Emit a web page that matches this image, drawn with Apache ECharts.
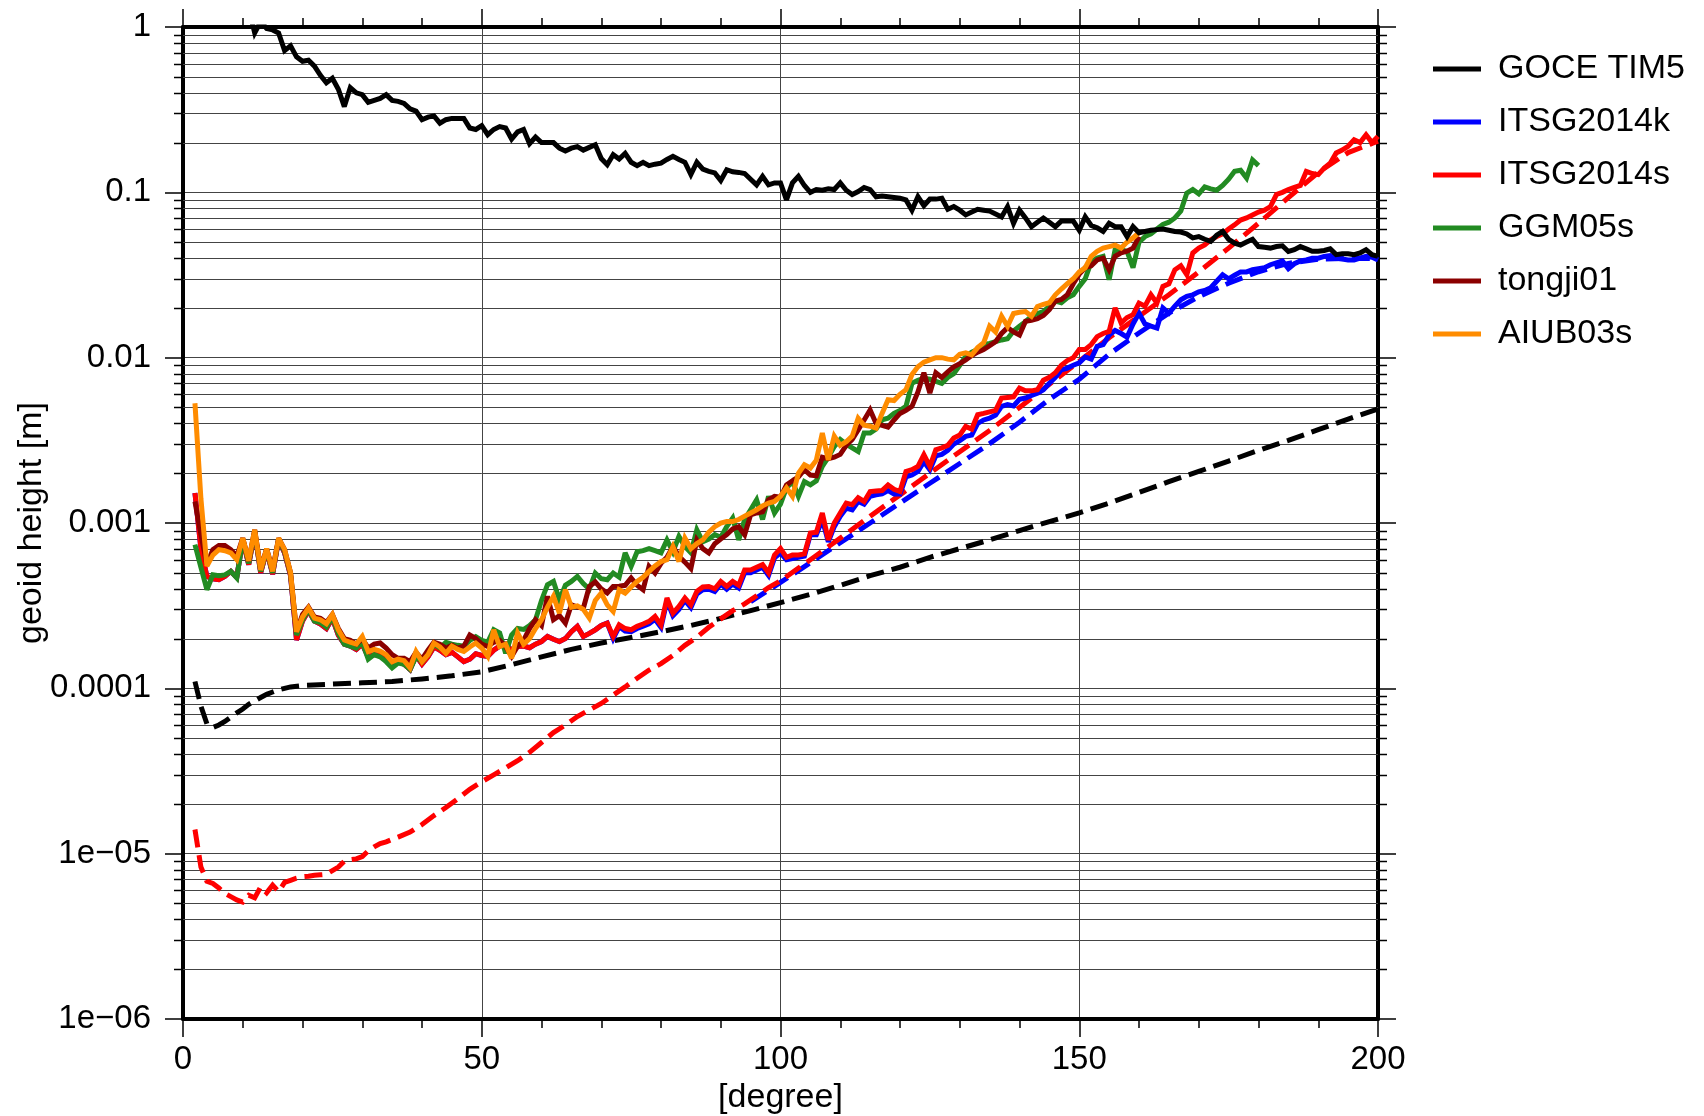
<!DOCTYPE html>
<html>
<head>
<meta charset="utf-8">
<title>geoid height per degree</title>
<script src="https://cdn.jsdelivr.net/npm/echarts@6/dist/echarts.min.js"></script>
<style>
    html, body { margin: 0; padding: 0; background: #fff; }
    #main { width: 1704px; height: 1116px; }
</style>
</head>
<body>
<div id="main"></div>
<script>
// axes
var xMin = 0, xMax = 200, xStep = 50;
var yMin = 1e-6, yMax = 1;
var yTickLabels = ['1', '0.1', '0.01', '0.001', '0.0001', '1e\u221205', '1e\u221206'];
var yMinorMantissas = [2, 3, 4, 5, 6, 7, 8, 9];
var legendNames = ['GOCE TIM5', 'ITSG2014k', 'ITSG2014s', 'GGM05s', 'tongji01', 'AIUB03s'];

// first degree of each solid curve (one value per degree after that)
var goceStart = 10;
var otherStart = 2;

// GOCE TIM5, degree 10..200 (above 1 is cut off by the frame)
var goceTim5 = [
    1.5, 1.3, 0.92, 1.08, 0.98, 0.96, 0.92, 0.72, 0.77, 0.66,
    0.62, 0.63, 0.58, 0.51, 0.46, 0.49, 0.42, 0.33, 0.43, 0.40,
    0.39, 0.35, 0.36, 0.37, 0.39, 0.36, 0.355, 0.345, 0.32, 0.31,
    0.275, 0.285, 0.29, 0.262, 0.275, 0.28, 0.28, 0.28, 0.245, 0.24,
    0.253, 0.223, 0.24, 0.25, 0.245, 0.21, 0.232, 0.24, 0.197, 0.216,
    0.20, 0.2, 0.2, 0.185, 0.178, 0.185, 0.189, 0.18, 0.187, 0.194,
    0.16, 0.147, 0.169, 0.159, 0.172, 0.152, 0.145, 0.152, 0.145, 0.148,
    0.15, 0.158, 0.165, 0.158, 0.152, 0.128, 0.152, 0.138, 0.134, 0.131,
    0.118, 0.137, 0.133, 0.132, 0.13, 0.12, 0.111, 0.125, 0.111, 0.114,
    0.114, 0.09, 0.114, 0.125, 0.11, 0.1, 0.104, 0.103, 0.105, 0.104,
    0.114, 0.103, 0.097, 0.101, 0.107, 0.104, 0.094, 0.095, 0.094, 0.093,
    0.092, 0.09, 0.078, 0.094, 0.083, 0.091, 0.091, 0.092, 0.079, 0.082,
    0.078, 0.073, 0.076, 0.079, 0.078, 0.077, 0.074, 0.071, 0.082, 0.065,
    0.078, 0.07, 0.062, 0.066, 0.07, 0.066, 0.062, 0.067, 0.067, 0.067,
    0.059, 0.071, 0.063, 0.061, 0.058, 0.065, 0.062, 0.062, 0.054, 0.062,
    0.057, 0.058, 0.059, 0.0595, 0.06, 0.059, 0.058, 0.0575, 0.056, 0.053,
    0.054, 0.052, 0.0505, 0.055, 0.058, 0.052, 0.0493, 0.048, 0.05, 0.052,
    0.047, 0.0465, 0.046, 0.047, 0.0475, 0.0439, 0.045, 0.047, 0.0455, 0.044,
    0.044, 0.0445, 0.0455, 0.042, 0.0425, 0.0425, 0.042, 0.043, 0.045, 0.042,
    0.041
];

// ITSG2014k, degree 2..200
var itsg2014k = [
    1.52e-3, 7.0e-4, 4.75e-4, 4.6e-4, 4.54e-4, 4.75e-4, 5.1e-4, 4.7e-4, 7.9e-4, 5.6e-4,
    8.8e-4, 5.0e-4, 6.8e-4, 4.9e-4, 7.9e-4, 6.6e-4, 4.8e-4, 1.96e-4, 2.55e-4, 2.95e-4,
    2.55e-4, 2.45e-4, 2.3e-4, 2.65e-4, 2.1e-4, 1.85e-4, 1.8e-4, 1.72e-4, 1.85e-4, 1.55e-4,
    1.6e-4, 1.58e-4, 1.5e-4, 1.38e-4, 1.45e-4, 1.4e-4, 1.3e-4, 1.58e-4, 1.4e-4, 1.55e-4,
    1.78e-4, 1.7e-4, 1.6e-4, 1.65e-4, 1.55e-4, 1.45e-4, 1.5e-4, 1.62e-4, 1.58e-4, 1.56e-4,
    1.7e-4, 1.8e-4, 1.85e-4, 1.7e-4, 1.79e-4, 1.8e-4, 1.76e-4, 1.85e-4, 1.92e-4, 2.06e-4,
    1.98e-4, 1.92e-4, 2.0e-4, 2.2e-4, 2.37e-4, 2.06e-4, 2.15e-4, 2.26e-4, 2.4e-4, 2.48e-4,
    2.0e-4, 2.36e-4, 2.22e-4, 2.2e-4, 2.3e-4, 2.38e-4, 2.46e-4, 2.62e-4, 2.34e-4, 3.38e-4,
    2.75e-4, 3.0e-4, 3.4e-4, 3.08e-4, 3.72e-4, 3.95e-4, 3.98e-4, 3.85e-4, 4.27e-4, 3.98e-4,
    4.27e-4, 4.05e-4, 5.0e-4, 5.0e-4, 5.2e-4, 5.4e-4, 4.82e-4, 6.15e-4, 6.6e-4, 6.0e-4,
    6.1e-4, 6.2e-4, 6.3e-4, 8.5e-4, 8.5e-4, 1.05e-3, 7.7e-4, 9.5e-4, 1.1e-3, 1.23e-3,
    1.2e-3, 1.35e-3, 1.3e-3, 1.45e-3, 1.48e-3, 1.5e-3, 1.57e-3, 1.5e-3, 1.5e-3, 1.9e-3,
    1.95e-3, 2.05e-3, 2.35e-3, 2.1e-3, 2.55e-3, 2.6e-3, 2.75e-3, 3.0e-3, 3.15e-3, 3.34e-3,
    3.4e-3, 4.0e-3, 4.2e-3, 4.3e-3, 4.5e-3, 5.07e-3, 5.2e-3, 5.1e-3, 5.6e-3, 5.7e-3,
    5.9e-3, 6.1e-3, 6.4e-3, 7.0e-3, 7.6e-3, 8.45e-3, 8.65e-3, 9.0e-3, 9.3e-3, 1.01e-2,
    9.8e-3, 1.17e-2, 1.2e-2, 1.37e-2, 1.46e-2, 1.4e-2, 1.33e-2, 1.6e-2, 1.86e-2, 1.6e-2,
    1.55e-2, 1.51e-2, 2.0e-2, 1.86e-2, 2.05e-2, 2.24e-2, 2.35e-2, 2.4e-2, 2.5e-2, 2.55e-2,
    2.65e-2, 2.9e-2, 3.17e-2, 3.0e-2, 3.15e-2, 3.3e-2, 3.3e-2, 3.4e-2, 3.45e-2, 3.5e-2,
    3.65e-2, 3.75e-2, 3.85e-2, 3.45e-2, 3.7e-2, 3.85e-2, 3.9e-2, 4.0e-2, 4.0e-2, 4.1e-2,
    4.15e-2, 4.0e-2, 3.95e-2, 3.9e-2, 3.9e-2, 4.0e-2, 4.1e-2, 4.05e-2, 3.9e-2
];

// ITSG2014s, degree 2..200
var itsg2014s = [
    1.52e-3, 7.0e-4, 4.75e-4, 4.6e-4, 4.54e-4, 4.75e-4, 5.1e-4, 4.7e-4, 7.9e-4, 5.6e-4,
    8.8e-4, 5.0e-4, 6.8e-4, 4.9e-4, 7.9e-4, 6.6e-4, 4.8e-4, 1.96e-4, 2.55e-4, 2.95e-4,
    2.55e-4, 2.45e-4, 2.3e-4, 2.65e-4, 2.1e-4, 1.85e-4, 1.8e-4, 1.72e-4, 1.85e-4, 1.55e-4,
    1.6e-4, 1.58e-4, 1.5e-4, 1.38e-4, 1.45e-4, 1.4e-4, 1.3e-4, 1.58e-4, 1.4e-4, 1.55e-4,
    1.78e-4, 1.7e-4, 1.6e-4, 1.65e-4, 1.55e-4, 1.45e-4, 1.5e-4, 1.62e-4, 1.58e-4, 1.56e-4,
    1.7e-4, 1.8e-4, 1.85e-4, 1.7e-4, 1.79e-4, 1.8e-4, 1.76e-4, 1.85e-4, 1.92e-4, 2.06e-4,
    1.98e-4, 1.92e-4, 2.0e-4, 2.2e-4, 2.37e-4, 2.06e-4, 2.15e-4, 2.26e-4, 2.4e-4, 2.48e-4,
    2.06e-4, 2.42e-4, 2.3e-4, 2.26e-4, 2.37e-4, 2.45e-4, 2.54e-4, 2.72e-4, 2.42e-4, 3.52e-4,
    2.85e-4, 3.13e-4, 3.52e-4, 3.2e-4, 3.86e-4, 4.1e-4, 4.13e-4, 4.0e-4, 4.43e-4, 4.13e-4,
    4.43e-4, 4.2e-4, 5.2e-4, 5.2e-4, 5.4e-4, 5.6e-4, 5.0e-4, 6.4e-4, 7.0e-4, 6.2e-4,
    6.4e-4, 6.4e-4, 6.5e-4, 8.7e-4, 8.8e-4, 1.15e-3, 7.9e-4, 1.0e-3, 1.15e-3, 1.32e-3,
    1.29e-3, 1.42e-3, 1.35e-3, 1.55e-3, 1.56e-3, 1.57e-3, 1.7e-3, 1.6e-3, 1.55e-3, 2.05e-3,
    2.1e-3, 2.2e-3, 2.59e-3, 2.2e-3, 2.77e-3, 2.85e-3, 2.95e-3, 3.27e-3, 3.4e-3, 3.84e-3,
    3.7e-3, 4.52e-3, 4.6e-3, 4.7e-3, 4.8e-3, 5.7e-3, 5.75e-3, 5.8e-3, 6.55e-3, 6.3e-3,
    6.3e-3, 6.4e-3, 7.3e-3, 7.6e-3, 8.1e-3, 9.0e-3, 9.6e-3, 1.0e-2, 1.12e-2, 1.12e-2,
    1.2e-2, 1.34e-2, 1.4e-2, 1.44e-2, 2.0e-2, 1.62e-2, 1.75e-2, 1.82e-2, 2.14e-2, 2.05e-2,
    2.4e-2, 2.14e-2, 2.7e-2, 2.8e-2, 3.4e-2, 3.6e-2, 3.17e-2, 4.3e-2, 4.6e-2, 4.8e-2,
    5.16e-2, 5.4e-2, 5.6e-2, 6.0e-2, 6.36e-2, 6.8e-2, 7.0e-2, 7.3e-2, 7.6e-2, 7.8e-2,
    8.2e-2, 9.7e-2, 1.0e-1, 1.04e-1, 1.07e-1, 1.1e-1, 1.34e-1, 1.3e-1, 1.28e-1, 1.4e-1,
    1.5e-1, 1.73e-1, 1.8e-1, 1.9e-1, 2.08e-1, 2.0e-1, 2.23e-1, 2.0e-1, 2.18e-1
];

// GGM05s, degree 2..180
var ggm05s = [
    7.4e-4, 5.4e-4, 3.95e-4, 4.86e-4, 4.8e-4, 4.85e-4, 5.1e-4, 4.65e-4, 8.0e-4, 5.7e-4,
    8.9e-4, 5.1e-4, 6.9e-4, 5.0e-4, 8.0e-4, 6.7e-4, 4.9e-4, 2.1e-4, 2.6e-4, 3.0e-4,
    2.55e-4, 2.5e-4, 2.35e-4, 2.7e-4, 2.15e-4, 1.85e-4, 1.8e-4, 1.75e-4, 1.9e-4, 1.5e-4,
    1.6e-4, 1.55e-4, 1.45e-4, 1.33e-4, 1.42e-4, 1.4e-4, 1.3e-4, 1.55e-4, 1.45e-4, 1.6e-4,
    1.85e-4, 1.75e-4, 1.9e-4, 1.85e-4, 1.82e-4, 1.8e-4, 1.95e-4, 2.05e-4, 1.95e-4, 1.9e-4,
    2.26e-4, 2.16e-4, 1.63e-4, 2.1e-4, 2.3e-4, 2.27e-4, 2.4e-4, 2.6e-4, 3.4e-4, 4.23e-4,
    4.43e-4, 3.43e-4, 4.2e-4, 4.43e-4, 4.75e-4, 4.3e-4, 3.98e-4, 4.98e-4, 4.6e-4, 4.54e-4,
    4.98e-4, 4.7e-4, 6.6e-4, 5.46e-4, 6.7e-4, 6.8e-4, 7.0e-4, 6.8e-4, 6.6e-4, 7.9e-4,
    6.7e-4, 8.3e-4, 7.2e-4, 6.6e-4, 9.1e-4, 7.7e-4, 8.0e-4, 8.5e-4, 8.2e-4, 9.5e-4,
    1.07e-3, 7.9e-4, 1.05e-3, 1.2e-3, 1.38e-3, 1.05e-3, 1.45e-3, 1.15e-3, 1.3e-3, 1.63e-3,
    1.78e-3, 1.45e-3, 1.78e-3, 1.7e-3, 1.8e-3, 2.2e-3, 2.5e-3, 2.9e-3, 3.2e-3, 3.0e-3,
    2.85e-3, 2.71e-3, 3.5e-3, 3.5e-3, 3.7e-3, 4.21e-3, 4.3e-3, 4.6e-3, 4.8e-3, 5.07e-3,
    7.0e-3, 7.3e-3, 7.5e-3, 7.4e-3, 7.2e-3, 7.0e-3, 7.6e-3, 8.0e-3, 9.0e-3, 1.02e-2,
    1.08e-2, 1.12e-2, 1.2e-2, 1.22e-2, 1.25e-2, 1.28e-2, 1.3e-2, 1.45e-2, 1.55e-2, 1.65e-2,
    1.78e-2, 1.85e-2, 1.9e-2, 2.05e-2, 2.2e-2, 2.15e-2, 2.3e-2, 2.4e-2, 2.7e-2, 3.0e-2,
    3.8e-2, 4.0e-2, 4.1e-2, 2.96e-2, 4.5e-2, 4.5e-2, 4.4e-2, 3.5e-2, 5.0e-2, 5.4e-2,
    5.6e-2, 6.0e-2, 6.4e-2, 6.6e-2, 7.0e-2, 7.7e-2, 9.9e-2, 1.04e-1, 9.8e-2, 1.08e-1,
    1.05e-1, 1.03e-1, 1.1e-1, 1.2e-1, 1.34e-1, 1.36e-1, 1.22e-1, 1.57e-1, 1.45e-1
];

// tongji01, degree 2..160
var tongji01 = [
    1.35e-3, 8.5e-4, 5.6e-4, 6.9e-4, 7.3e-4, 7.3e-4, 6.9e-4, 6.3e-4, 8.1e-4, 5.9e-4,
    9.1e-4, 5.3e-4, 7.0e-4, 5.2e-4, 8.1e-4, 6.9e-4, 5.0e-4, 2.2e-4, 2.8e-4, 3.1e-4,
    2.7e-4, 2.65e-4, 2.5e-4, 2.8e-4, 2.3e-4, 2.0e-4, 1.95e-4, 1.85e-4, 2.0e-4, 1.75e-4,
    1.85e-4, 1.88e-4, 1.75e-4, 1.6e-4, 1.52e-4, 1.52e-4, 1.45e-4, 1.65e-4, 1.5e-4, 1.7e-4,
    1.9e-4, 1.85e-4, 1.75e-4, 1.82e-4, 1.75e-4, 1.8e-4, 2.1e-4, 2.0e-4, 1.85e-4, 1.79e-4,
    1.9e-4, 1.95e-4, 1.79e-4, 1.56e-4, 1.8e-4, 1.95e-4, 2.3e-4, 2.6e-4, 2.4e-4, 3.6e-4,
    2.6e-4, 2.75e-4, 2.48e-4, 3.2e-4, 3.1e-4, 3.05e-4, 4.13e-4, 4.4e-4, 4.0e-4, 3.77e-4,
    4.13e-4, 4.15e-4, 4.2e-4, 4.65e-4, 4.2e-4, 3.95e-4, 5.46e-4, 4.98e-4, 5.7e-4, 6.2e-4,
    7.2e-4, 6.3e-4, 5.8e-4, 5.3e-4, 7.9e-4, 7.0e-4, 6.6e-4, 7.5e-4, 8.0e-4, 8.5e-4,
    9.2e-4, 9.5e-4, 8.5e-4, 1.12e-3, 1.15e-3, 1.17e-3, 1.38e-3, 1.45e-3, 1.43e-3, 1.7e-3,
    1.8e-3, 1.9e-3, 2.1e-3, 1.95e-3, 1.93e-3, 2.5e-3, 2.45e-3, 2.5e-3, 2.6e-3, 2.95e-3,
    3.2e-3, 3.66e-3, 4.2e-3, 4.83e-3, 4.0e-3, 3.9e-3, 3.8e-3, 4.2e-3, 4.6e-3, 4.8e-3,
    5.07e-3, 6.2e-3, 8.1e-3, 6.1e-3, 8.1e-3, 7.6e-3, 8.2e-3, 8.8e-3, 9.2e-3, 9.7e-3,
    1.03e-2, 1.08e-2, 1.12e-2, 1.18e-2, 1.25e-2, 1.4e-2, 1.52e-2, 1.43e-2, 1.37e-2, 1.66e-2,
    1.68e-2, 1.72e-2, 1.8e-2, 1.95e-2, 2.2e-2, 2.25e-2, 2.4e-2, 2.8e-2, 3.2e-2, 3.5e-2,
    3.6e-2, 3.9e-2, 4.0e-2, 3.4e-2, 4.1e-2, 4.3e-2, 4.4e-2, 4.6e-2, 5.4e-2
];

// AIUB03s, degree 2..160
var aiub03s = [
    5.3e-3, 1.4e-3, 5.5e-4, 6.4e-4, 6.9e-4, 6.8e-4, 6.6e-4, 6.0e-4, 8.1e-4, 5.9e-4,
    9.1e-4, 5.2e-4, 7.0e-4, 5.1e-4, 8.1e-4, 6.9e-4, 5.0e-4, 2.2e-4, 2.7e-4, 3.06e-4,
    2.66e-4, 2.6e-4, 2.46e-4, 2.79e-4, 2.26e-4, 1.96e-4, 1.9e-4, 1.85e-4, 2.06e-4, 1.67e-4,
    1.72e-4, 1.68e-4, 1.6e-4, 1.45e-4, 1.5e-4, 1.47e-4, 1.33e-4, 1.67e-4, 1.45e-4, 1.6e-4,
    1.88e-4, 1.78e-4, 1.63e-4, 1.8e-4, 1.72e-4, 1.67e-4, 1.78e-4, 1.88e-4, 1.75e-4, 1.56e-4,
    2.26e-4, 1.79e-4, 1.85e-4, 1.52e-4, 2.16e-4, 1.85e-4, 2.0e-4, 2.3e-4, 2.6e-4, 3.1e-4,
    3.6e-4, 2.85e-4, 3.95e-4, 3.1e-4, 3.15e-4, 3.0e-4, 2.66e-4, 3.4e-4, 3.77e-4, 3.2e-4,
    2.92e-4, 3.95e-4, 3.77e-4, 4.1e-4, 4.43e-4, 4.7e-4, 5.1e-4, 5.5e-4, 5.85e-4, 6.0e-4,
    7.2e-4, 5.85e-4, 8.1e-4, 7.0e-4, 7.5e-4, 7.9e-4, 8.8e-4, 9.5e-4, 1.0e-3, 1.02e-3,
    1.02e-3, 1.05e-3, 1.1e-3, 1.15e-3, 1.2e-3, 1.27e-3, 1.32e-3, 1.35e-3, 1.45e-3, 1.63e-3,
    1.45e-3, 2.0e-3, 2.25e-3, 2.15e-3, 2.4e-3, 3.5e-3, 2.41e-3, 3.35e-3, 2.95e-3, 3.1e-3,
    3.35e-3, 4.3e-3, 3.9e-3, 3.85e-3, 3.75e-3, 4.6e-3, 5.56e-3, 5.5e-3, 6.0e-3, 6.4e-3,
    7.9e-3, 8.8e-3, 9.4e-3, 9.7e-3, 1.0e-2, 1.0e-2, 9.8e-3, 9.7e-3, 1.05e-2, 1.07e-2,
    1.04e-2, 1.15e-2, 1.23e-2, 1.55e-2, 1.43e-2, 1.78e-2, 1.55e-2, 1.85e-2, 1.88e-2, 1.9e-2,
    1.78e-2, 2.04e-2, 2.1e-2, 2.15e-2, 2.4e-2, 2.6e-2, 2.8e-2, 3.0e-2, 3.3e-2, 3.5e-2,
    4.1e-2, 4.4e-2, 4.6e-2, 4.7e-2, 4.8e-2, 4.6e-2, 5.0e-2, 5.3e-2, 5.7e-2
];

// dashed curves, [degree, value]
var goceTim5Dashed = [
    [2, 1.1e-4], [3, 7.8e-5], [4, 6.1e-5], [5, 5.8e-5], [6, 6.0e-5], [7, 6.3e-5], [8, 6.7e-5],
    [9, 7.1e-5], [10, 7.5e-5], [11, 8.0e-5], [12, 8.4e-5], [13, 8.8e-5], [14, 9.2e-5], [15, 9.5e-5],
    [16, 9.8e-5], [17, 1.0e-4], [18, 1.02e-4], [20, 1.04e-4], [25, 1.06e-4], [30, 1.08e-4],
    [35, 1.1e-4], [40, 1.14e-4], [45, 1.19e-4], [50, 1.26e-4], [55, 1.39e-4], [60, 1.55e-4],
    [65, 1.72e-4], [70, 1.88e-4], [75, 2.03e-4], [80, 2.2e-4], [85, 2.4e-4], [90, 2.65e-4],
    [95, 2.95e-4], [100, 3.3e-4], [105, 3.7e-4], [110, 4.2e-4], [115, 4.8e-4], [120, 5.4e-4],
    [125, 6.2e-4], [130, 7.0e-4], [135, 7.9e-4], [140, 9.0e-4], [145, 1.02e-3], [150, 1.15e-3],
    [155, 1.32e-3], [160, 1.53e-3], [165, 1.78e-3], [170, 2.05e-3], [175, 2.37e-3], [180, 2.75e-3],
    [185, 3.16e-3], [190, 3.67e-3], [195, 4.25e-3], [200, 4.9e-3]
];
var itsg2014kDashed = [
    [95, 3.35e-4], [100, 4.37e-4], [105, 5.75e-4], [110, 7.6e-4], [115, 1.0e-3], [120, 1.32e-3],
    [125, 1.74e-3], [130, 2.29e-3], [135, 3.02e-3], [140, 4.07e-3], [145, 5.6e-3], [150, 7.4e-3],
    [155, 1.05e-2], [160, 1.41e-2], [165, 1.86e-2], [170, 2.34e-2], [175, 2.82e-2], [180, 3.31e-2],
    [185, 3.72e-2], [190, 3.94e-2], [195, 3.98e-2], [200, 3.98e-2]
];
var itsg2014sDashed = [
    [2, 1.4e-5], [3, 8.3e-6], [4, 6.8e-6], [5, 6.6e-6], [6, 6.2e-6], [7, 5.75e-6], [8, 5.5e-6],
    [9, 5.25e-6], [10, 5.1e-6], [11, 5.6e-6], [12, 5.4e-6], [13, 6.3e-6], [14, 5.8e-6], [15, 6.45e-6],
    [16, 5.9e-6], [17, 6.7e-6], [18, 6.9e-6], [19, 7.1e-6], [20, 7.25e-6], [21, 7.3e-6], [22, 7.4e-6],
    [23, 7.45e-6], [24, 7.5e-6], [25, 7.9e-6], [26, 8.3e-6], [27, 9.0e-6], [28, 9.2e-6], [29, 9.3e-6],
    [30, 9.6e-6], [31, 1.04e-5], [32, 1.1e-5], [33, 1.15e-5], [34, 1.18e-5], [35, 1.22e-5],
    [36, 1.26e-5], [38, 1.35e-5], [40, 1.5e-5], [42, 1.7e-5], [44, 1.9e-5], [46, 2.15e-5],
    [48, 2.45e-5], [50, 2.72e-5], [52, 3.0e-5], [54, 3.3e-5], [56, 3.65e-5], [58, 4.1e-5],
    [60, 4.7e-5], [62, 5.4e-5], [64, 6.0e-5], [66, 6.75e-5], [68, 7.4e-5], [70, 8.1e-5],
    [72, 9.1e-5], [74, 1.02e-4], [76, 1.15e-4], [78, 1.29e-4], [80, 1.41e-4], [82, 1.58e-4],
    [84, 1.82e-4], [86, 2.04e-4], [88, 2.34e-4], [90, 2.63e-4], [92, 2.95e-4], [94, 3.24e-4],
    [96, 3.63e-4], [98, 4.07e-4], [100, 4.47e-4], [105, 6.0e-4], [110, 8.1e-4], [115, 1.1e-3],
    [120, 1.48e-3], [125, 2.0e-3], [130, 2.7e-3], [135, 3.63e-3], [140, 5.0e-3], [145, 6.9e-3],
    [150, 9.5e-3], [155, 1.32e-2], [160, 1.78e-2], [165, 2.4e-2], [170, 3.3e-2], [175, 4.6e-2],
    [180, 6.5e-2], [185, 9.3e-2], [190, 1.32e-1], [195, 1.74e-1], [200, 2.04e-1]
];

var fontName = '"Liberation Sans", Arial, Helvetica, sans-serif';

function byDegree(start, values) {
    var out = [];
    for (var i = 0; i < values.length; i++) {
        out.push([start + i, values[i]]);
    }
    return out;
}

function curve(name, data, color, dashed) {
    return {
        name: name,
        type: 'line',
        data: data,
        symbol: 'none',
        showSymbol: false,
        silent: true,
        z: 3,
        itemStyle: { color: color },
        lineStyle: { color: color, width: 5, type: dashed ? [18, 8] : 'solid', join: 'miter', miterLimit: 3 }
    };
}

// 2..9 times each decade, for the fine horizontal grid
var yMinorValues = [];
for (var e = -6; e < 0; e++) {
    yMinorMantissas.forEach(function (m) {
        yMinorValues.push([xMin, m * Math.pow(10, e)]);
    });
}

var tickStyle = { color: '#000', width: 1.5 };
var frameStyle = { color: '#000', width: 4 };

var option = {
    animation: false,
    backgroundColor: '#fff',
    textStyle: { fontFamily: fontName },
    grid: { left: 183, right: 326, top: 27, bottom: 97, containLabel: false, outerBoundsMode: 'none' },
    legend: {
        data: legendNames,
        orient: 'vertical',
        left: 1433,
        top: 49,
        padding: 0,
        icon: 'rect',
        itemWidth: 48,
        itemHeight: 5,
        itemGap: 13,
        selectedMode: false,
        textStyle: { fontSize: 34, color: '#000', fontFamily: fontName, lineHeight: 40, padding: [0, 0, 0, 12] }
    },
    xAxis: [
        {
            type: 'value',
            min: xMin,
            max: xMax,
            interval: xStep,
            name: '[degree]',
            nameLocation: 'middle',
            nameGap: 59,
            nameTextStyle: { fontSize: 34, color: '#000', fontFamily: fontName },
            axisLine: { show: true, onZero: false, lineStyle: frameStyle },
            axisTick: { show: true, length: 18, lineStyle: tickStyle },
            minorTick: { show: true, splitNumber: 5, length: 9, lineStyle: tickStyle },
            axisLabel: { fontSize: 33, color: '#000', margin: 24, fontFamily: fontName, showMinLabel: true, showMaxLabel: true },
            splitLine: { show: true, lineStyle: { color: '#444', width: 1 } }
        },
        {
            type: 'value',
            position: 'top',
            min: xMin,
            max: xMax,
            interval: xStep,
            axisLine: { show: true, onZero: false, lineStyle: frameStyle },
            axisTick: { show: true, length: 18, lineStyle: tickStyle },
            minorTick: { show: true, splitNumber: 5, length: 9, lineStyle: tickStyle },
            axisLabel: { show: false },
            splitLine: { show: false }
        }
    ],
    yAxis: [
        {
            type: 'log',
            logBase: 10,
            min: yMin,
            max: yMax,
            splitNumber: 6,
            name: 'geoid height [m]',
            nameLocation: 'middle',
            nameGap: 134,
            nameRotate: 90,
            nameMoveOverlap: false,
            nameTextStyle: { fontSize: 34, color: '#000', fontFamily: fontName },
            axisLine: { show: true, onZero: false, lineStyle: frameStyle },
            axisTick: { show: true, length: 18, lineStyle: tickStyle },
            axisLabel: {
                fontSize: 33,
                color: '#000',
                margin: 32,
                fontFamily: fontName,
                showMinLabel: true,
                showMaxLabel: true,
                formatter: function (v) {
                    return yTickLabels[-Math.round(Math.log10(v))];
                }
            },
            splitLine: { show: true, lineStyle: { color: '#444', width: 1 } }
        },
        {
            type: 'log',
            logBase: 10,
            position: 'right',
            min: yMin,
            max: yMax,
            splitNumber: 6,
            axisLine: { show: true, onZero: false, lineStyle: frameStyle },
            axisTick: { show: true, length: 18, lineStyle: tickStyle },
            axisLabel: { show: false },
            splitLine: { show: false }
        }
    ],
    series: [
        {
            // fine grid lines and the small ticks on both sides
            type: 'custom',
            silent: true,
            clip: false,
            z: 1,
            data: yMinorValues,
            encode: { x: 0, y: 1 },
            renderItem: function (params, api) {
                var left = api.coord([xMin, api.value(1)]);
                var right = api.coord([xMax, api.value(1)]);
                var y = Math.round(left[1]) + 0.5;
                return {
                    type: 'group',
                    children: [
                        { type: 'line', shape: { x1: left[0], y1: y, x2: right[0], y2: y }, style: { stroke: '#444', lineWidth: 1 } },
                        { type: 'line', shape: { x1: left[0] - 9, y1: y, x2: left[0], y2: y }, style: { stroke: '#000', lineWidth: 1.5 } },
                        { type: 'line', shape: { x1: right[0], y1: y, x2: right[0] + 9, y2: y }, style: { stroke: '#000', lineWidth: 1.5 } }
                    ]
                };
            }
        },
        curve('GOCE TIM5 error', goceTim5Dashed, '#000000', true),
        curve('ITSG2014k error', itsg2014kDashed, '#0000ff', true),
        curve('ITSG2014s error', itsg2014sDashed, '#ff0000', true),
        curve('ITSG2014k', byDegree(otherStart, itsg2014k), '#0000ff', false),
        curve('ITSG2014s', byDegree(otherStart, itsg2014s), '#ff0000', false),
        curve('GGM05s', byDegree(otherStart, ggm05s), '#228b22', false),
        curve('tongji01', byDegree(otherStart, tongji01), '#8b0000', false),
        curve('AIUB03s', byDegree(otherStart, aiub03s), '#ff8c00', false),
        curve('GOCE TIM5', byDegree(goceStart, goceTim5), '#000000', false)
    ]
};

var myChart = echarts.init(document.getElementById('main'));
myChart.setOption(option);
</script>
</body>
</html>
